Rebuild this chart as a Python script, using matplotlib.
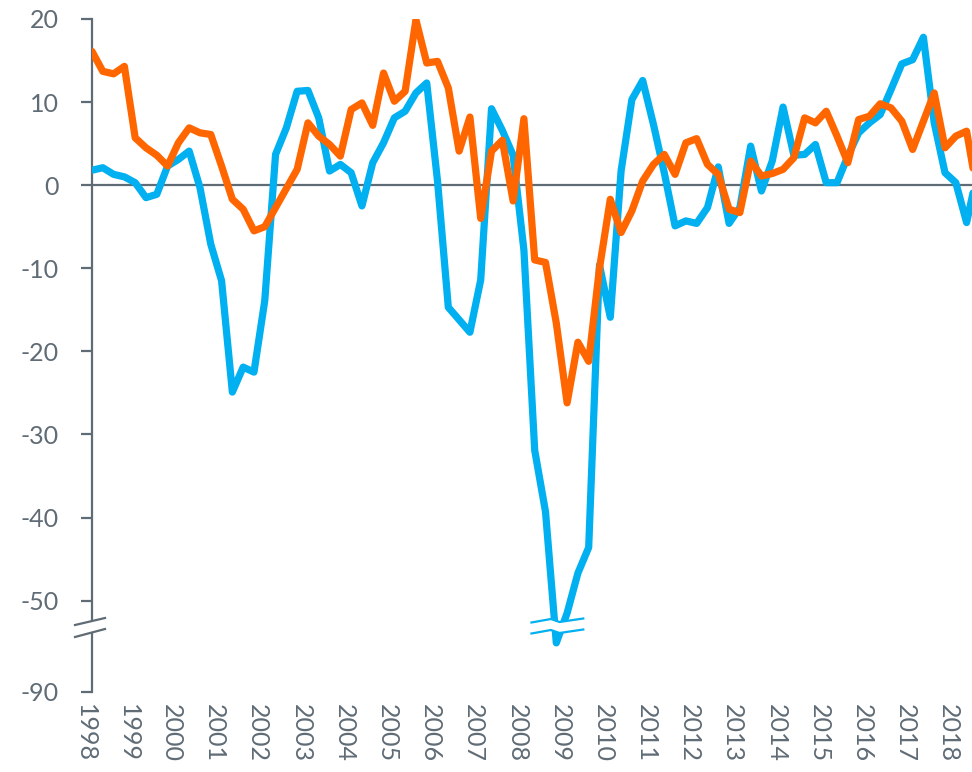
import numpy as np
import matplotlib
matplotlib.use("Agg")
import matplotlib.pyplot as plt
import matplotlib.transforms as mtransforms

plt.rcParams['font.family'] = ['Lato', 'DejaVu Sans']

# quarterly values, 1998Q1 onwards
blue_vals = [1.8, 2.1, 1.3, 1.0, 0.3, -1.5, -1.1, 2.3, 3.1, 4.1, -0.3, -7.1, -11.5,
             -24.9, -21.9, -22.5, -13.9, 3.7, 6.9, 11.3, 11.4, 8.1, 1.7, 2.5, 1.5,
             -2.5, 2.7, 5.1, 8.1, 8.9, 11.1, 12.3, 0.5, -14.7, -16.2, -17.7, -11.4,
             9.2, 6.6, 3.6, -7.8, -31.9, -39.3, -68.5, -55.5, -46.7, -43.6, -9.6,
             -15.9, 1.7, 10.3, 12.6, 7.3, 1.5, -4.9, -4.3, -4.6, -2.7, 2.2, -4.6,
             -2.7, 4.7, -0.7, 2.9, 9.4, 3.6, 3.7, 4.9, 0.3, 0.3, 3.5, 6.3, 7.5, 8.5,
             11.5, 14.6, 15.1, 17.8, 7.5, 1.5, 0.3, -4.5, 1.5]
orange_vals = [16.1, 13.7, 13.4, 14.3, 5.7, 4.5, 3.6, 2.3, 5.1, 6.9, 6.3, 6.1, 2.3,
               -1.7, -2.9, -5.5, -5.0, -2.7, -0.4, 1.9, 7.5, 5.9, 4.9, 3.5, 9.1, 9.9,
               7.2, 13.5, 10.1, 11.3, 19.9, 14.7, 14.9, 11.7, 4.1, 8.2, -4.0, 4.1,
               5.4, -1.9, 8.0, -9.0, -9.3, -16.6, -26.2, -18.9, -21.2, -10.0, -1.7,
               -5.7, -3.1, 0.5, 2.5, 3.7, 1.3, 5.1, 5.6, 2.5, 1.3, -2.9, -3.3, 2.9,
               1.1, 1.4, 1.9, 3.3, 8.1, 7.5, 8.9, 5.9, 2.7, 7.9, 8.3, 9.8, 9.3, 7.7,
               4.3, 7.7, 11.1, 4.5, 5.9, 6.5, -1.0]
years = list(range(1998, 2019))
y_ticks = [-90, -50, -40, -30, -20, -10, 0, 10, 20]

BLUE = '#00B0F0'
ORANGE = '#FF6600'
GREY = '#5F6B75'

# broken axis: below -50 the scale is squeezed
def fwd(v):
    v = np.asarray(v, dtype=float)
    return np.where(v >= -50, v, -50 + (v + 50) * 0.275)

def inv(d):
    d = np.asarray(d, dtype=float)
    return np.where(d >= -50, d, -50 + (d + 50) / 0.275)

fig = plt.figure(figsize=(9.72, 7.72), dpi=100)
ax = fig.add_axes([92 / 972, 80 / 772, 880 / 972, 673 / 772])
ax.set_yscale('function', functions=(fwd, inv))

x = np.arange(len(blue_vals))
ax.axhline(0, color=GREY, lw=1.6, zorder=1)
ax.plot(x, blue_vals, color=BLUE, lw=5.2, solid_joinstyle='round', solid_capstyle='round', zorder=3)
ax.plot(np.arange(len(orange_vals)), orange_vals, color=ORANGE, lw=5.2,
        solid_joinstyle='round', solid_capstyle='round', zorder=4)

ax.set_xlim(0, 81.5)
ax.set_ylim(-90, 20)
ax.set_yticks(y_ticks)
ax.set_yticklabels([str(t) for t in y_ticks])
ax.set_xticks([4 * k for k in range(len(years))])
ax.set_xticklabels([str(yr) for yr in years], rotation=-90, va='top', ha='center')

for s in ['top', 'right', 'bottom']:
    ax.spines[s].set_visible(False)
ax.spines['left'].set_color(GREY)
ax.spines['left'].set_linewidth(1.6)
ax.tick_params(axis='y', length=8, width=1.6, color=GREY, labelcolor=GREY,
               labelsize=18, pad=16)
ax.tick_params(axis='x', length=0, labelcolor=GREY, labelsize=18, pad=9)
off = mtransforms.ScaledTranslation(-7 / 100, 0, fig.dpi_scale_trans)
for lab in ax.get_xticklabels():
    lab.set_transform(lab.get_transform() + off)

# break marks on the y axis
def fy(py):
    return (692 - py) / 673

bx = np.array([-17, 13]) / 880
ax.fill([bx[0], bx[1], bx[1], bx[0]], [fy(625), fy(618), fy(629), fy(637)],
        color='white', transform=ax.transAxes, clip_on=False, zorder=5, lw=0)
ax.plot(bx, [fy(625), fy(618)], color=GREY, lw=1.6, transform=ax.transAxes, clip_on=False, zorder=6)
ax.plot(bx, [fy(637), fy(629)], color=GREY, lw=1.6, transform=ax.transAxes, clip_on=False, zorder=6)

# break marks on the blue line
btr = mtransforms.blended_transform_factory(ax.transData, ax.transAxes)
wx = np.array([40.7, 42.5, 43.3, 45.5])
wtop = np.array([622.5, 619.0, 622.0, 618.5])
wbot = wtop + 11
ax.fill(np.concatenate([wx, wx[::-1]]), np.concatenate([fy(wtop), fy(wbot[::-1])]),
        color='white', transform=btr, zorder=5, lw=0)
ax.plot(wx, fy(wtop), color=BLUE, lw=1.6, transform=btr, zorder=6)
ax.plot(wx, fy(wbot), color=BLUE, lw=1.6, transform=btr, zorder=6)

fig.savefig('out.png', dpi=100)
